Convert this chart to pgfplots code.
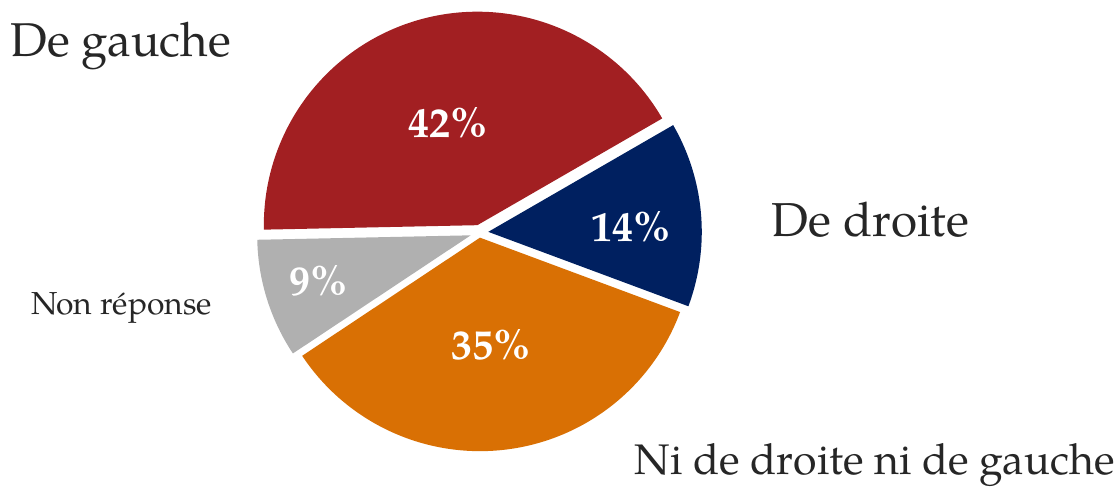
\documentclass[border=0pt]{standalone}
\usepackage{pgfplots}
\pgfplotsset{compat=1.18}
\usepackage{pgfplotstable}
\usepackage{fontspec}
\setmainfont{texgyrepagella-regular.otf}[BoldFont=texgyrepagella-bold.otf]
\definecolor{cRed}{RGB}{162,31,34}
\definecolor{cBlue}{RGB}{0,32,96}
\definecolor{cOrange}{RGB}{217,112,4}
\definecolor{cGray}{RGB}{176,176,176}
\definecolor{txt}{RGB}{38,38,38}

% share of each answer, in percent, counter-clockwise from 30 degrees;
% expl = how far the slice is pulled out of the pie
\pgfplotstableread{
idx value expl
0 42 7.7
1 9 9.1
2 35 5.1
3 14 8.9
}\piedata

\begin{document}
\begin{tikzpicture}
\pgfplotstablegetelem{0}{value}\of\piedata \let\vA\pgfplotsretval
\pgfplotstablegetelem{1}{value}\of\piedata \let\vB\pgfplotsretval
\pgfplotstablegetelem{2}{value}\of\piedata \let\vC\pgfplotsretval
\pgfplotstablegetelem{3}{value}\of\piedata \let\vD\pgfplotsretval
\pgfplotstablegetelem{0}{expl}\of\piedata \let\eA\pgfplotsretval
\pgfplotstablegetelem{1}{expl}\of\piedata \let\eB\pgfplotsretval
\pgfplotstablegetelem{2}{expl}\of\piedata \let\eC\pgfplotsretval
\pgfplotstablegetelem{3}{expl}\of\piedata \let\eD\pgfplotsretval
\pgfmathsetmacro{\aA}{30}
\pgfmathsetmacro{\bA}{\aA+3.6*\vA}
\pgfmathsetmacro{\bB}{\bA+3.6*\vB}
\pgfmathsetmacro{\bC}{\bB+3.6*\vC}
\pgfmathsetmacro{\bD}{\bC+3.6*\vD}
\def\cx{479.4}\def\cy{254.4}\def\R{213.5}
% apex of each slice, pulled out along its bisector
\pgfmathsetmacro{\pxA}{\cx+\eA*cos((\aA+\bA)/2)}\pgfmathsetmacro{\pyA}{\cy+\eA*sin((\aA+\bA)/2)}
\pgfmathsetmacro{\pxB}{\cx+\eB*cos((\bA+\bB)/2)}\pgfmathsetmacro{\pyB}{\cy+\eB*sin((\bA+\bB)/2)}
\pgfmathsetmacro{\pxC}{\cx+\eC*cos((\bB+\bC)/2)}\pgfmathsetmacro{\pyC}{\cy+\eC*sin((\bB+\bC)/2)}
\pgfmathsetmacro{\pxD}{\cx+\eD*cos((\bC+\bD)/2)}\pgfmathsetmacro{\pyD}{\cy+\eD*sin((\bC+\bD)/2)}
\begin{axis}[
  width=1118pt, height=487pt, scale only axis,
  xmin=0, xmax=1118, ymin=0, ymax=487,
  axis lines=none, clip=false,
  every axis plot/.append style={draw=none, samples=150, variable=\t},
]
\addplot[fill=cRed, domain=\aA:\bA] ({\pxA+\R*cos(\t)},{\pyA+\R*sin(\t)}) -- (\pxA,\pyA) -- cycle;
\addplot[fill=cGray, domain=\bA:\bB] ({\pxB+\R*cos(\t)},{\pyB+\R*sin(\t)}) -- (\pxB,\pyB) -- cycle;
\addplot[fill=cOrange, domain=\bB:\bC] ({\pxC+\R*cos(\t)},{\pyC+\R*sin(\t)}) -- (\pxC,\pyC) -- cycle;
\addplot[fill=cBlue, domain=\bC:\bD] ({\pxD+\R*cos(\t)},{\pyD+\R*sin(\t)}) -- (\pxD,\pyD) -- cycle;

\begin{scope}[every node/.style={anchor=base, text=white, inner sep=0pt, font=\fontsize{42}{42}\selectfont\bfseries}]
\node at (447.7,349.7) {42\%};
\node at (630.8,245.3) {14\%};
\node at (491.2,127.7) {35\%};
\node at (318.7,191) {9\%};
\end{scope}

\begin{scope}[every node/.style={anchor=base west, text=txt, inner sep=0pt}]
\node[font=\fontsize{47.4}{47.4}\selectfont] at (10.5,430.3) {De gauche};
\node[font=\fontsize{47.6}{47.6}\selectfont] at (771.5,250.3) {De droite};
\node[font=\fontsize{31.8}{31.8}\selectfont] at (30.8,172) {Non r\'eponse};
\node[font=\fontsize{42.8}{42.8}\selectfont] at (634.5,12.5) {Ni de droite ni de gauche};
\end{scope}
\end{axis}
\pgfresetboundingbox
\useasboundingbox (0,0) rectangle (1118pt,487pt);
\end{tikzpicture}
\end{document}
